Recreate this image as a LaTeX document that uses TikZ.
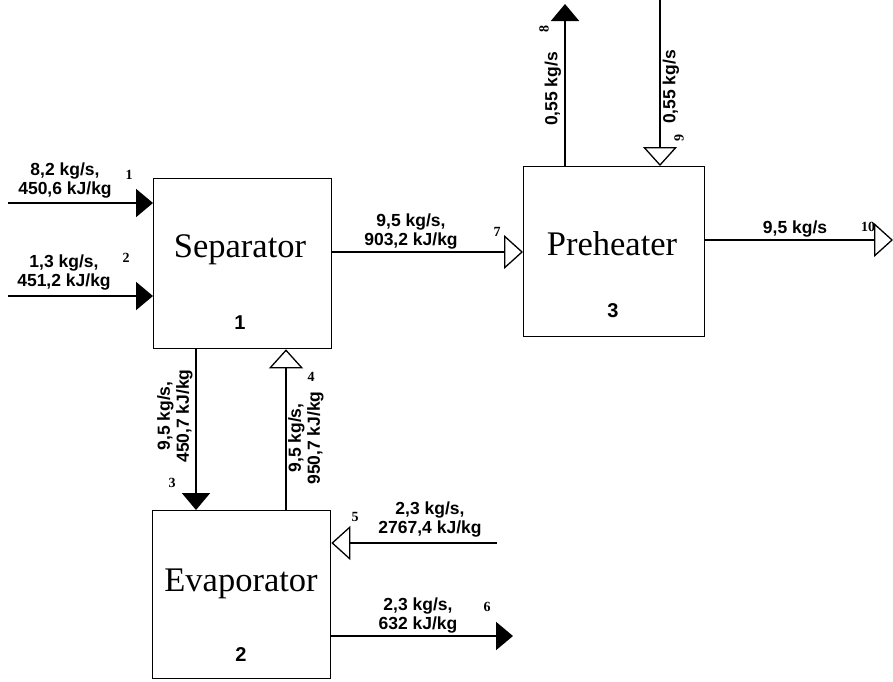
\documentclass[tikz,border=0pt]{standalone}
\usepackage{fontspec}
\setmainfont{Liberation Serif}
\setsansfont{Liberation Sans}
\usetikzlibrary{arrows.meta}
\begin{document}
\begin{tikzpicture}[x=1pt,y=-1pt,
  box/.style={draw,line width=1.3pt,inner sep=0pt,anchor=north west},
  title/.style={font=\fontsize{34.5}{38}\selectfont},
  boxnum/.style={font=\sffamily\bfseries\fontsize{20}{22}\selectfont},
  flow/.style={line width=2pt},
  fhead/.style={-{Triangle[length=17pt,width=28pt]}},
  ohead/.style={-{Triangle[open,length=19pt,width=34pt,line width=1.3pt]}},
  lab/.style={font=\sffamily\bfseries\fontsize{17.5}{19}\selectfont,align=center,inner sep=0pt},
  num/.style={font=\bfseries\fontsize{14}{14}\selectfont,inner sep=0pt}]
\useasboundingbox (0,0) rectangle (893,681);
% boxes
\node[box,minimum width=178pt,minimum height=170pt] (sep) at (153,178) {};
\node[box,minimum width=178pt,minimum height=168pt] (eva) at (152,510) {};
\node[box,minimum width=181pt,minimum height=170pt] (pre) at (523,166) {};
\node[title] (sept) at (240,250) {Separator};
\node[boxnum] (sepn) at (240,323) {1};
\node[title] (evat) at (241,584) {Evaporator};
\node[boxnum] (evan) at (241,655) {2};
\node[title] (pret) at (612,244) {Preheater};
\node[boxnum] (pren) at (613,311) {3};
% free ends
\coordinate (e1) at (8,203);
\coordinate (e2) at (8,296);
\coordinate (e3) at (196,348);
\coordinate (e4) at (286,510);
\coordinate (e5) at (497,543);
\coordinate (e6) at (513,636);
\coordinate (e7) at (331,252);
\coordinate (e8) at (565,4);
\coordinate (e9) at (660,0);
\coordinate (e10) at (893,240);
% connectors
\draw[flow,fhead] (e1) -- (e1 -| sep.west);
\draw[flow,fhead] (e2) -- (e2 -| sep.west);
\draw[flow,fhead] (e3) -- (e3 |- eva.north);
\draw[flow,ohead] (e4) -- (e4 |- sep.south);
\draw[flow,ohead] (e5) -- (e5 -| eva.east);
\draw[flow,fhead] (e6 -| eva.east) -- (e6);
\draw[flow,ohead] (e7) -- (e7 -| pre.west);
\draw[flow,fhead] (e8 |- pre.north) -- (e8);
\draw[flow,ohead] (e9) -- (e9 |- pre.north);
\draw[flow,ohead] (e10 -| pre.east) -- (e10);
% labels
\node[lab] (l1) at (65,181) {8,2 kg/s,\\450,6 kJ/kg};
\node[lab] (l2) at (64,273) {1,3 kg/s,\\451,2 kJ/kg};
\node[lab,rotate=90] (l3) at (175,416) {9,5 kg/s,\\450,7 kJ/kg};
\node[lab,rotate=90] (l4) at (306,438) {9,5 kg/s,\\950,7 kJ/kg};
\node[lab] (l5) at (430,520) {2,3 kg/s,\\2767,4 kJ/kg};
\node[lab] (l6) at (418,615) {2,3 kg/s,\\632 kJ/kg};
\node[lab] (l7) at (411,232) {9,5 kg/s,\\903,2 kJ/kg};
\node[lab,rotate=90] (l8) at (553,89) {0,55 kg/s};
\node[lab,rotate=90] (l9) at (671,87) {0,55 kg/s};
\node[lab] (l10) at (795,229) {9,5 kg/s};
% stream numbers
\node[num] (n1) at (129,175) {1};
\node[num] (n2) at (126,258) {2};
\node[num] (n3) at (172,483) {3};
\node[num] (n4) at (311,377) {4};
\node[num] (n5) at (355,517) {5};
\node[num] (n6) at (487,607) {6};
\node[num] (n7) at (497,232) {7};
\node[num,rotate=90] (n8) at (544,29) {8};
\node[num,rotate=90] (n9) at (679,138) {9};
\node[num] (n10) at (868,227) {10};
\end{tikzpicture}
\end{document}
